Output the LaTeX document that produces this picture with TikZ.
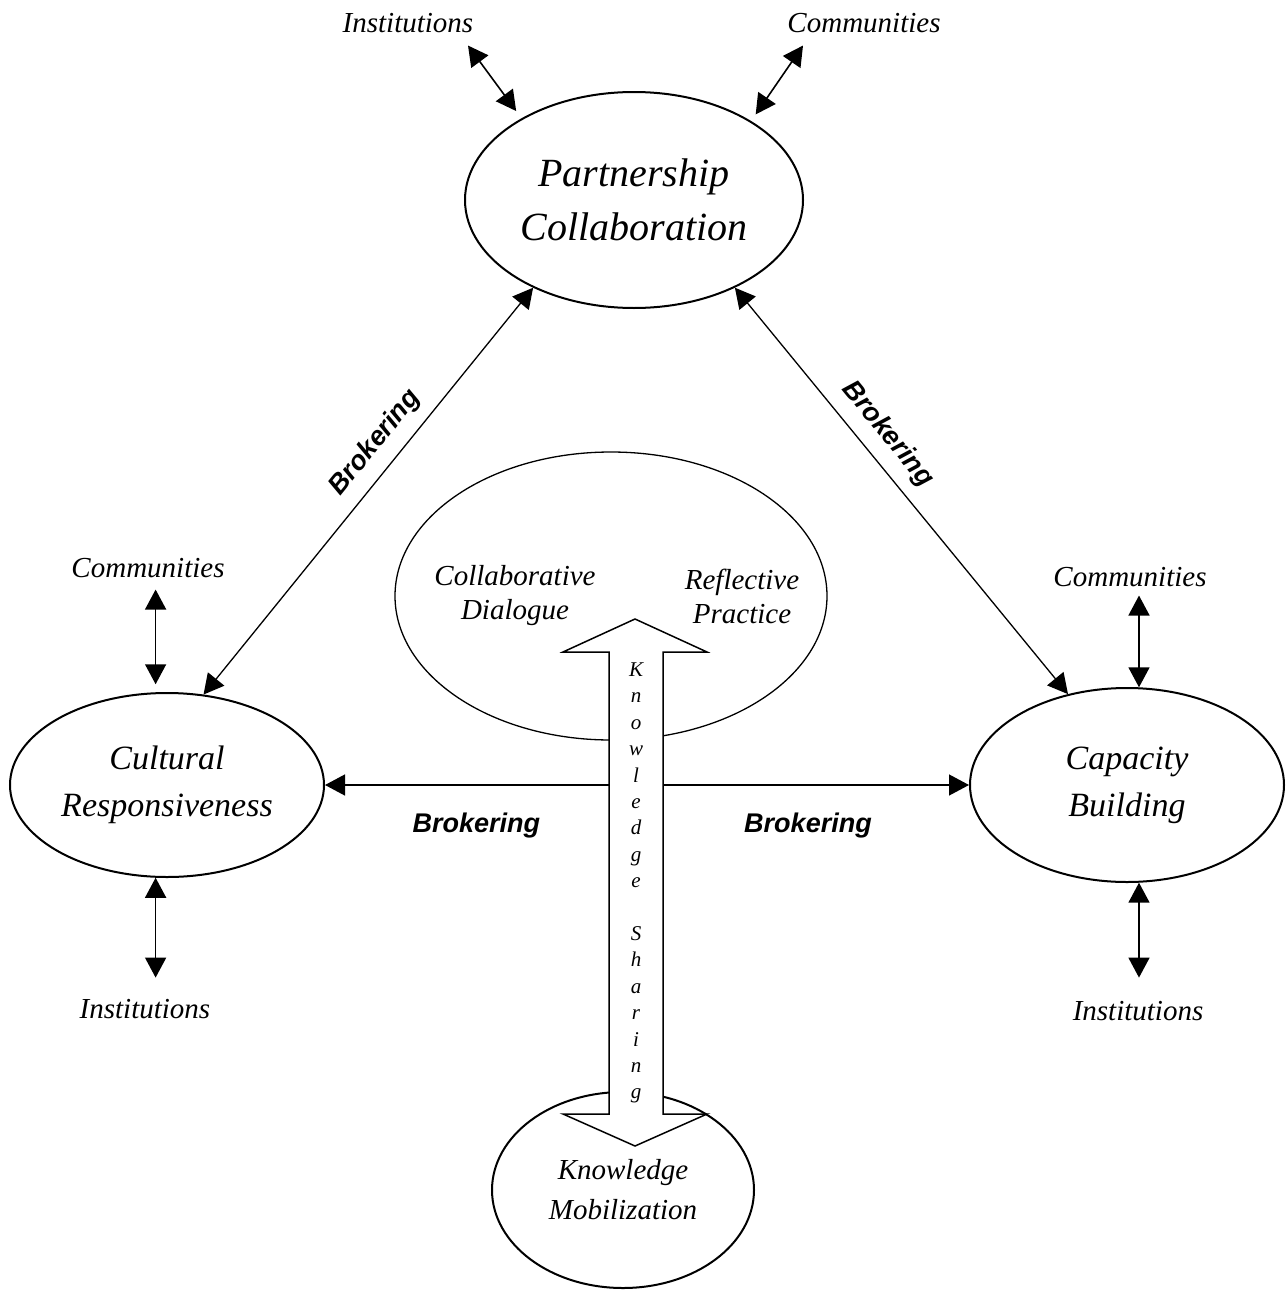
\documentclass[tikz,border=0pt]{standalone}
\usepackage{fontspec}
\setmainfont{Liberation Serif}
\newfontfamily\brokerfont{Liberation Sans}
\usetikzlibrary{arrows.meta,shapes.geometric}

\tikzset{
  oval/.style={ellipse, draw, line width=2pt, inner sep=0pt, align=center},
  lbl/.style={font=\itshape\fontsize{29}{34}\selectfont, inner sep=0pt, anchor=base},
  broker/.style={font=\brokerfont\bfseries\itshape\fontsize{27}{30}\selectfont, inner sep=0pt},
  dbl/.style={{Triangle[length=20pt,width=21pt]}-{Triangle[length=20pt,width=21pt]}, line width=1.6pt}
}

\begin{document}
\begin{tikzpicture}[x=1pt, y=-1pt]
\useasboundingbox (0,0) rectangle (1285,1290);

\node[oval, minimum width=338pt, minimum height=216pt, font=\itshape\fontsize{40}{54}\selectfont] (partner) at (634,200) {Partnership\\Collaboration};
\node[oval, minimum width=314pt, minimum height=184pt, font=\itshape\fontsize{34}{47}\selectfont] (cultural) at (167,785) {Cultural\\Responsiveness};
\node[oval, minimum width=314pt, minimum height=194pt, font=\itshape\fontsize{34}{47}\selectfont] (capacity) at (1127,785) {Capacity\\Building};
\node[oval, line width=1.3pt, minimum width=432pt, minimum height=288pt] (hub) at (611,596) {};
\node[oval, minimum width=262pt, minimum height=196pt, font=\itshape\fontsize{29}{40}\selectfont] (mobil) at (623,1190) {Knowledge\\Mobilization};

\node[lbl, anchor=center, align=center] (dialogue) at (515,596) {Collaborative\\Dialogue};
\node[lbl, anchor=center, align=center] (practice) at (742,596) {Reflective\\Practice};

\node[lbl] (instT) at (408,33) {Institutions};
\node[lbl] (commT) at (864,33) {Communities};
\node[lbl] (commL) at (148,577) {Communities};
\node[lbl] (instL) at (145,1018) {Institutions};
\node[lbl] (commR) at (1130,586) {Communities};
\node[lbl] (instR) at (1138,1020) {Institutions};

\draw[dbl, shorten >=9pt] ([shift={(60,12)}]instT.south) -- (partner.144);
\draw[dbl, shorten >=8pt] ([shift={(-61,12)}]commT.south) -- (partner.34);
\draw[dbl, shorten <=12pt, shorten >=8pt] (commL.south -| cultural.97) -- (cultural.97);
\draw[dbl, shorten >=21pt] (cultural.263) -- (instL.north -| cultural.263);
\draw[dbl, shorten <=9pt] (commR.south -| capacity.83) -- (capacity.83);
\draw[dbl, shorten >=23pt] (capacity.277) -- (instR.north -| capacity.277);

\draw[dbl, line width=1.3pt] (partner.221.5) -- node[broker, sloped, above=12pt, pos=.42] {Brokering} (cultural.68);
\draw[dbl, line width=1.3pt] (partner.319.4) -- node[broker, sloped, above=12pt, pos=.4] {Brokering} (capacity.123);
\draw[dbl, line width=1.3pt] (cultural.east) -- node[broker, below=27pt, pos=.235] {Brokering} node[broker, below=27pt, pos=.75] {Brokering} (capacity.west);

\draw[line width=1.5pt, fill=white] (635,619) -- (707,652) -- (663,652) -- (663,1114) -- (707,1114) -- (635,1146) -- (563,1114) -- (609,1114) -- (609,652) -- (563,652) -- cycle;
\node[align=center, inner sep=0pt, font=\itshape\fontsize{21}{26.4}\selectfont] (kshare) at (636,883) {K\\n\\o\\w\\l\\e\\d\\g\\e\\[26.4pt]S\\h\\a\\r\\i\\n\\g};
\end{tikzpicture}
\end{document}
